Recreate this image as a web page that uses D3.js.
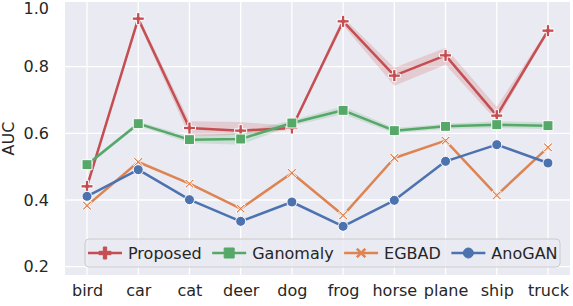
<!DOCTYPE html>
<html>
<head>
<meta charset="utf-8">
<script src="https://cdn.jsdelivr.net/npm/d3@7"></script>
<style>
  body { margin: 0; background: #fff; }
  text { font-family: "DejaVu Sans", sans-serif; fill: #262626; }
</style>
</head>
<body>
<svg id="chart" width="573" height="306"></svg>
<script>
const categories = ["bird", "car", "cat", "deer", "dog", "frog", "horse", "plane", "ship", "truck"];
const yTicks = [0.2, 0.4, 0.6, 0.8, 1.0];

const proposed      = [0.441, 0.944, 0.616, 0.608, 0.616, 0.936, 0.773, 0.834, 0.653, 0.908];
const proposedLow   = [0.434, 0.935, 0.591, 0.596, 0.610, 0.924, 0.743, 0.806, 0.638, 0.902];
const proposedHigh  = [0.448, 0.953, 0.636, 0.634, 0.622, 0.948, 0.797, 0.857, 0.680, 0.914];
const ganomaly      = [0.506, 0.629, 0.581, 0.583, 0.631, 0.669, 0.608, 0.621, 0.626, 0.623];
const ganomalyLow   = [0.500, 0.623, 0.571, 0.566, 0.623, 0.657, 0.600, 0.613, 0.616, 0.613];
const ganomalyHigh  = [0.512, 0.635, 0.591, 0.602, 0.639, 0.681, 0.616, 0.629, 0.636, 0.633];
const egbad         = [0.383, 0.514, 0.449, 0.374, 0.481, 0.354, 0.526, 0.578, 0.414, 0.558];
const anogan        = [0.411, 0.491, 0.401, 0.336, 0.394, 0.321, 0.399, 0.516, 0.566, 0.511];

const series = [
  { name: "Proposed", values: proposed, low: proposedLow, high: proposedHigh, color: "#C44E52", marker: "plus" },
  { name: "Ganomaly", values: ganomaly, low: ganomalyLow, high: ganomalyHigh, color: "#55A868", marker: "square" },
  { name: "EGBAD", values: egbad, color: "#DD8452", marker: "x" },
  { name: "AnoGAN", values: anogan, color: "#4C72B0", marker: "circle" }
];

const margin = { top: 2, right: 3, bottom: 31, left: 65 };
const width = 573, height = 306;
const fontSize = "16px";
const svg = d3.select("#chart");

const x = d3.scalePoint()
  .domain(categories)
  .range([margin.left, width - margin.right])
  .padding(0.43);

const y = d3.scaleLinear()
  .domain([0.175, 0.994])
  .range([height - margin.bottom, margin.top]);

// background
svg.append("rect")
  .attr("x", margin.left).attr("y", margin.top)
  .attr("width", width - margin.left - margin.right)
  .attr("height", height - margin.top - margin.bottom)
  .attr("fill", "#EAEAF2");

svg.append("clipPath").attr("id", "plotclip")
  .append("rect")
  .attr("x", margin.left).attr("y", margin.top)
  .attr("width", width - margin.left - margin.right)
  .attr("height", height - margin.top - margin.bottom);

const grid = svg.append("g").attr("clip-path", "url(#plotclip)");
grid.selectAll(".hg").data(yTicks).enter().append("line")
  .attr("x1", margin.left).attr("x2", width - margin.right)
  .attr("y1", d => y(d)).attr("y2", d => y(d))
  .attr("stroke", "#fff").attr("stroke-width", 1.3);
grid.selectAll(".vg").data(categories).enter().append("line")
  .attr("y1", margin.top).attr("y2", height - margin.bottom)
  .attr("x1", d => x(d)).attr("x2", d => x(d))
  .attr("stroke", "#fff").attr("stroke-width", 1.3);

// axes
const xAxis = svg.append("g")
  .attr("transform", `translate(0,${height - margin.bottom})`)
  .call(d3.axisBottom(x).tickSize(0).tickPadding(10));
xAxis.select(".domain").remove();
xAxis.selectAll("text").attr("font-size", fontSize).attr("font-family", "DejaVu Sans").attr("fill", "#262626");

const yAxis = svg.append("g")
  .attr("transform", `translate(${margin.left},0)`)
  .call(d3.axisLeft(y).tickValues(yTicks).tickFormat(d3.format(".1f")).tickSize(0).tickPadding(16));
yAxis.select(".domain").remove();
yAxis.selectAll("text").attr("font-size", fontSize).attr("font-family", "DejaVu Sans").attr("fill", "#262626");
// keep the top label inside the picture
yAxis.selectAll(".tick").filter(d => d === 1.0).attr("transform", "translate(0,8.5)");

svg.append("text")
  .attr("transform", `translate(14,${(margin.top + height - margin.bottom) / 2}) rotate(-90)`)
  .attr("text-anchor", "middle")
  .attr("font-size", fontSize)
  .text("AUC");

function markerPath(type, s) {
  const h = s / 2;
  if (type === "plus") {
    const t = s * 0.14;
    return `M${-t},${-h}H${t}V${-t}H${h}V${t}H${t}V${h}H${-t}V${t}H${-h}V${-t}H${-t}Z`;
  }
  if (type === "x") {
    const t = s * 0.12, a = h * 0.85;
    return `M${-a},${-a + t}L${-a + t},${-a}L0,${-t}L${a - t},${-a}L${a},${-a + t}L${t},0L${a},${a - t}L${a - t},${a}L0,${t}L${-a + t},${a}L${-a},${a - t}L${-t},0Z`;
  }
  if (type === "square") {
    return `M${-h},${-h}H${h}V${h}H${-h}Z`;
  }
  return d3.symbol(d3.symbolCircle, Math.PI * h * h)();
}
const markerSize = { plus: 12, x: 11, square: 10, circle: 10 };

const plot = svg.append("g").attr("clip-path", "url(#plotclip)");

series.forEach(s => {
  if (s.low) {
    const area = d3.area()
      .x((d, i) => x(categories[i]))
      .y0((d, i) => y(s.low[i]))
      .y1((d, i) => y(s.high[i]));
    plot.append("path")
      .datum(s.values)
      .attr("d", area)
      .attr("fill", s.color)
      .attr("fill-opacity", 0.2);
  }
});

series.forEach(s => {
  const line = d3.line()
    .x((d, i) => x(categories[i]))
    .y(d => y(d));
  plot.append("path")
    .datum(s.values)
    .attr("d", line)
    .attr("fill", "none")
    .attr("stroke", s.color)
    .attr("stroke-width", 2.5)
    .attr("stroke-linejoin", "round");
  plot.selectAll(null)
    .data(s.values)
    .enter().append("path")
    .attr("transform", (d, i) => `translate(${x(categories[i])},${y(d)})`)
    .attr("d", markerPath(s.marker, markerSize[s.marker]))
    .attr("fill", s.color)
    .attr("stroke", "#fff")
    .attr("stroke-width", 1);
});

// legend
const legend = svg.append("g");
legend.append("rect")
  .attr("x", 85).attr("y", 239)
  .attr("width", 475).attr("height", 28)
  .attr("rx", 4)
  .attr("fill", "#EAEAF2").attr("fill-opacity", 0.8)
  .attr("stroke", "#CCCCCC").attr("stroke-width", 1);

let lx = 88;
const ly = 253;
series.forEach(s => {
  legend.append("line")
    .attr("x1", lx).attr("x2", lx + 34)
    .attr("y1", ly).attr("y2", ly)
    .attr("stroke", s.color).attr("stroke-width", 2.5);
  legend.append("path")
    .attr("transform", `translate(${lx + 17},${ly})`)
    .attr("d", markerPath(s.marker, markerSize[s.marker]))
    .attr("fill", s.color)
    .attr("stroke", s.color)
    .attr("stroke-width", 1);
  const t = legend.append("text")
    .attr("x", lx + 40).attr("y", ly)
    .attr("dy", "0.35em")
    .attr("font-size", fontSize)
    .text(s.name);
  lx += 40 + t.node().getComputedTextLength() + 10.5;
});
</script>
</body>
</html>
